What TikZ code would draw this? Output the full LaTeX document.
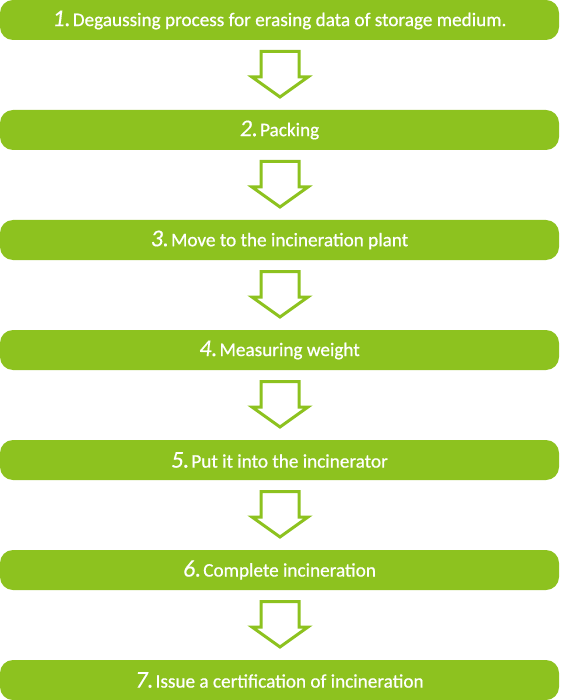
\documentclass[tikz,border=0pt]{standalone}
\usepackage{xcolor}
\usepackage{fontspec}
\setmainfont{Carlito}[FakeBold=0.7]
\newfontfamily\numfont{Carlito}[FakeBold=0.3]
\definecolor{leafgreen}{RGB}{141,194,31}
\newcommand{\stepnum}[1]{{\numfont\fontsize{24}{24}\selectfont\itshape #1.}\hspace{2pt}}
\tikzset{
  stepbar/.style={fill=leafgreen, rounded corners=13pt, minimum width=559pt,
    minimum height=40pt, inner sep=0pt, text=white,
    font=\fontsize{19.2}{19.2}\selectfont},
  downarrow/.style={draw=leafgreen, line width=3pt, fill=white, miter limit=10}
}
\begin{document}
\begin{tikzpicture}[x=1pt, y=-1pt]
  \useasboundingbox (0,0) rectangle (560,700);
  \node[stepbar] (s1) at (279.5, 20) {\stepnum{1}Degaussing process for erasing data of storage medium.};
  \node[stepbar] (s2) at (279.5, 130) {\stepnum{2}Packing};
  \node[stepbar] (s3) at (279.5, 240) {\stepnum{3}Move to the incineration plant};
  \node[stepbar] (s4) at (279.5, 350) {\stepnum{4}Measuring weight};
  \node[stepbar] (s5) at (279.5, 460) {\stepnum{5}Put it into the incinerator};
  \node[stepbar] (s6) at (279.5, 570) {\stepnum{6}Complete incineration};
  \node[stepbar] (s7) at (279.5, 680) {\stepnum{7}Issue a certification of incineration};
  % arrows between the bars
  \foreach \t in {50, 160, 270, 380, 490, 600} {
    \draw[downarrow] (261, \t+1.5) -- (299, \t+1.5) -- (299, \t+27) -- (308, \t+27)
      -- (280, \t+47) -- (252, \t+27) -- (261, \t+27) -- cycle;
  }
\end{tikzpicture}
\end{document}
